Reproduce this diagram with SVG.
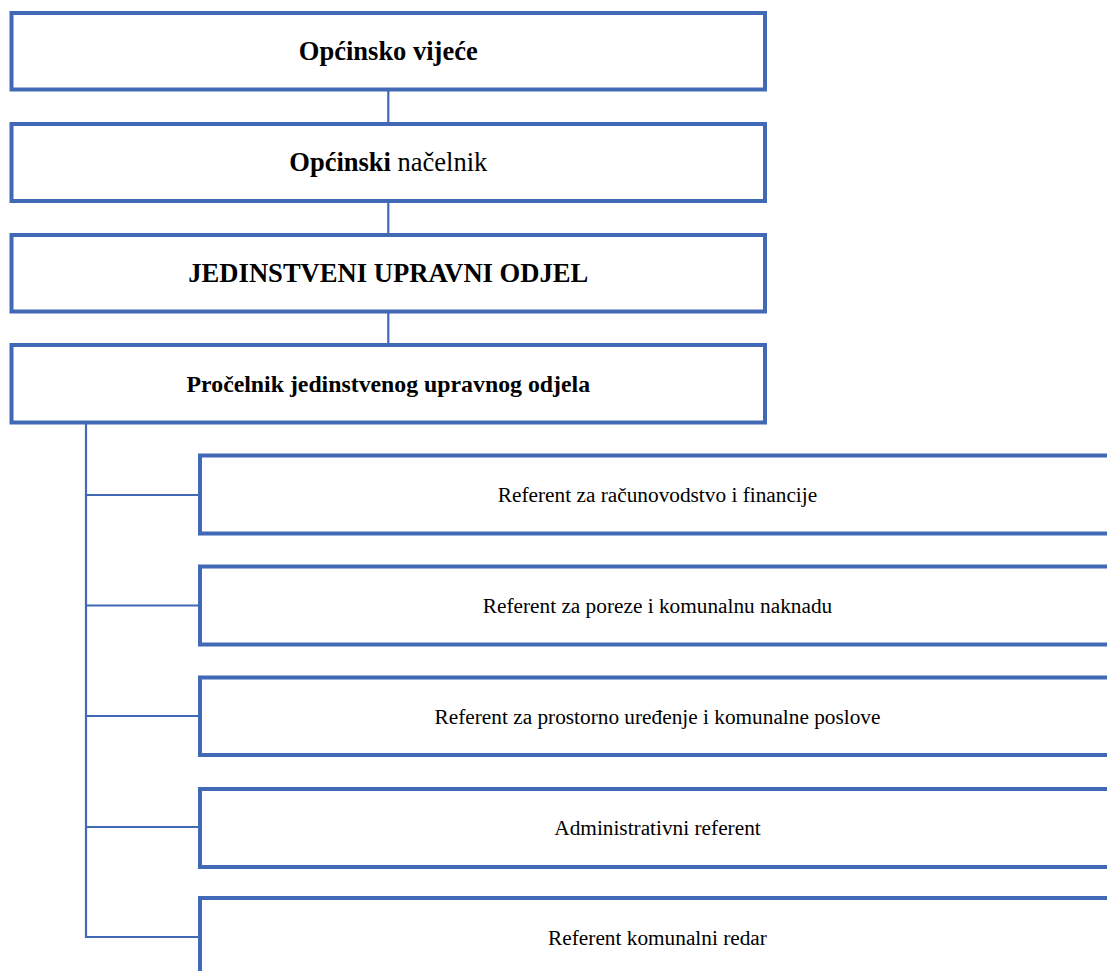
<svg xmlns="http://www.w3.org/2000/svg" width="1107" height="971" viewBox="0 0 1107 971">
<style>
.box{fill:#fff;stroke:#4169B5;stroke-width:4}
.con{fill:none;stroke:#4169B5;stroke-width:2.2}
.t{font-family:"Liberation Serif","Times New Roman",serif;fill:#000;text-anchor:middle}
.b{font-weight:bold}
</style>
<rect width="1107" height="971" fill="#fff"/>
<g id="connectors">
<line class="con" x1="388.3" y1="89.5" x2="388.3" y2="124"/>
<line class="con" x1="388.3" y1="201" x2="388.3" y2="235"/>
<line class="con" x1="388.3" y1="311.5" x2="388.3" y2="345"/>
<polyline class="con" points="86,422.5 86,937 200,937"/>
<line class="con" x1="86" y1="495" x2="200" y2="495"/>
<line class="con" x1="86" y1="605.5" x2="200" y2="605.5"/>
<line class="con" x1="86" y1="716" x2="200" y2="716"/>
<line class="con" x1="86" y1="827" x2="200" y2="827"/>
</g>
<g id="n1"><rect class="box" x="11.5" y="13" width="753.5" height="76.5"/><text class="t b" x="388.3" y="60" font-size="26.5">Općinsko vijeće</text></g>
<g id="n2"><rect class="box" x="11.5" y="124" width="753.5" height="77"/><text class="t" x="388.3" y="171" font-size="26.5"><tspan class="b">Općinski</tspan> načelnik</text></g>
<g id="n3"><rect class="box" x="11.5" y="235" width="753.5" height="76.5"/><text class="t b" x="388.3" y="282" font-size="26.6">JEDINSTVENI UPRAVNI ODJEL</text></g>
<g id="n4"><rect class="box" x="11.5" y="345" width="753.5" height="77.5"/><text class="t b" x="388.3" y="392" font-size="23.8">Pročelnik jedinstvenog upravnog odjela</text></g>
<g id="c1"><rect class="box" x="200" y="455.5" width="915" height="78"/><text class="t" x="657.5" y="502" font-size="21.3">Referent za računovodstvo i financije</text></g>
<g id="c2"><rect class="box" x="200" y="566.5" width="915" height="78"/><text class="t" x="657.5" y="613" font-size="21.3">Referent za poreze i komunalnu naknadu</text></g>
<g id="c3"><rect class="box" x="200" y="677.5" width="915" height="77.5"/><text class="t" x="657.5" y="723.5" font-size="21.3">Referent za prostorno uređenje i komunalne poslove</text></g>
<g id="c4"><rect class="box" x="200" y="789" width="915" height="78"/><text class="t" x="657.5" y="835" font-size="21.3">Administrativni referent</text></g>
<g id="c5"><rect class="box" x="200" y="898" width="915" height="78"/><text class="t" x="657.5" y="945" font-size="21.3">Referent komunalni redar</text></g>
</svg>
